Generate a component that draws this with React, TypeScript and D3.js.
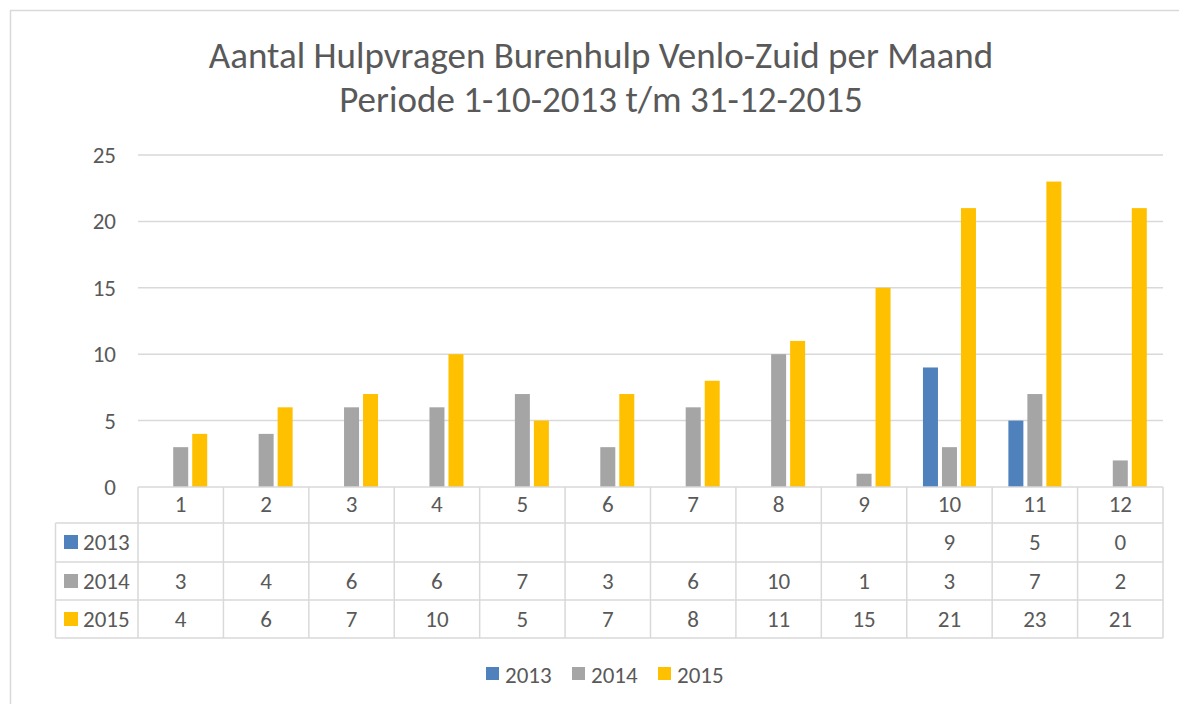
import React from "react";
import * as d3 from "d3";

const titleLines = ["Aantal Hulpvragen Burenhulp Venlo-Zuid per Maand", "Periode 1-10-2013 t/m 31-12-2015"];
const months = ["1", "2", "3", "4", "5", "6", "7", "8", "9", "10", "11", "12"];
const seriesNames = ["2013", "2014", "2015"];
const values2013: (number | null)[] = [null, null, null, null, null, null, null, null, null, 9, 5, 0];
const values2014: (number | null)[] = [3, 4, 6, 6, 7, 3, 6, 10, 1, 3, 7, 2];
const values2015: (number | null)[] = [4, 6, 7, 10, 5, 7, 8, 11, 15, 21, 23, 21];
const seriesColors = ["#4f81bd", "#a5a5a5", "#ffc000"];
const yTicks = [0, 5, 10, 15, 20, 25];

const FONT = "Carlito, Calibri, Lato, sans-serif";
const TEXT = "#595959";
const LINE = "#d9d9d9";
const FS = 23;

export default function App() {
  const W = 1179, H = 704;
  const left = 138, right = 1163, top = 155, base = 487;
  const x = d3.scaleBand<string>().domain(months).range([left, right]).padding(0);
  const y = d3.scaleLinear().domain([0, 25]).range([base, top]);
  const bw = x.bandwidth();
  const step = 19, barW = 15;
  const pi = (step - barW) / step;
  const po = (bw / step - 3 + pi) / 2;
  const inner = d3.scaleBand<string>().domain(seriesNames).range([0, bw]).paddingInner(pi).paddingOuter(po);
  const allSeries = [values2013, values2014, values2015];

  const rowTops = [487, 523, 562, 600, 638];
  const tableLeft = 55.5;

  return (
    <svg width={W} height={H} style={{ position: "absolute", left: 0, top: 0 }} fontFamily={FONT}>
      <rect x={0} y={0} width={W} height={H} fill="#ffffff" />
      <rect x={10.5} y={10.5} width={1300} height={900} fill="none" stroke={LINE} strokeWidth={1.5} />
      {titleLines.map((t, i) => (
        <text key={i} x={601} y={68 + i * 44} textAnchor="middle" fontSize={37} fill={TEXT}>{t}</text>
      ))}
      {yTicks.map((t) => (
        <g key={t}>
          {t > 0 && <line x1={left} x2={right} y1={y(t)} y2={y(t)} stroke={LINE} strokeWidth={1.5} />}
          <text x={116} y={y(t) + 8} textAnchor="end" fontSize={FS} fill={TEXT}>{t}</text>
        </g>
      ))}
      {allSeries.map((vals, si) =>
        vals.map((v, mi) =>
          v === null || v === 0 ? null : (
            <rect key={`${si}-${mi}`} x={(x(months[mi]) as number) + (inner(seriesNames[si]) as number)} y={y(v)} width={inner.bandwidth()} height={y(0) - y(v)} fill={seriesColors[si]} />
          )
        )
      )}
      {/* data table */}
      <g stroke={LINE} strokeWidth={1.5} fill="none">
        <line x1={left} x2={right} y1={rowTops[0]} y2={rowTops[0]} />
        {rowTops.slice(1).map((r) => (
          <line key={r} x1={tableLeft} x2={right} y1={r} y2={r} />
        ))}
        <line x1={tableLeft} x2={tableLeft} y1={rowTops[1]} y2={rowTops[4]} />
        {months.map((m) => (
          <line key={m} x1={x(m) as number} x2={x(m) as number} y1={rowTops[0]} y2={rowTops[4]} />
        ))}
        <line x1={right} x2={right} y1={rowTops[0]} y2={rowTops[4]} />
      </g>
      {months.map((m) => (
        <text key={m} x={(x(m) as number) + bw / 2} y={512} textAnchor="middle" fontSize={FS} fill={TEXT}>{m}</text>
      ))}
      {allSeries.map((vals, si) => (
        <g key={si}>
          <rect x={64} y={rowTops[si + 1] + 12} width={14} height={14} fill={seriesColors[si]} />
          <text x={83} y={rowTops[si + 1] + 27} fontSize={FS} fill={TEXT}>{seriesNames[si]}</text>
          {vals.map((v, mi) =>
            v === null ? null : (
              <text key={mi} x={(x(months[mi]) as number) + bw / 2} y={rowTops[si + 1] + 27} textAnchor="middle" fontSize={FS} fill={TEXT}>{v}</text>
            )
          )}
        </g>
      ))}
      {/* legend */}
      {seriesNames.map((s, i) => {
        const lx = 486 + i * 86;
        return (
          <g key={s}>
            <rect x={lx} y={667} width={13} height={13} fill={seriesColors[i]} />
            <text x={lx + 19} y={683} fontSize={FS} fill={TEXT}>{s}</text>
          </g>
        );
      })}
    </svg>
  );
}
